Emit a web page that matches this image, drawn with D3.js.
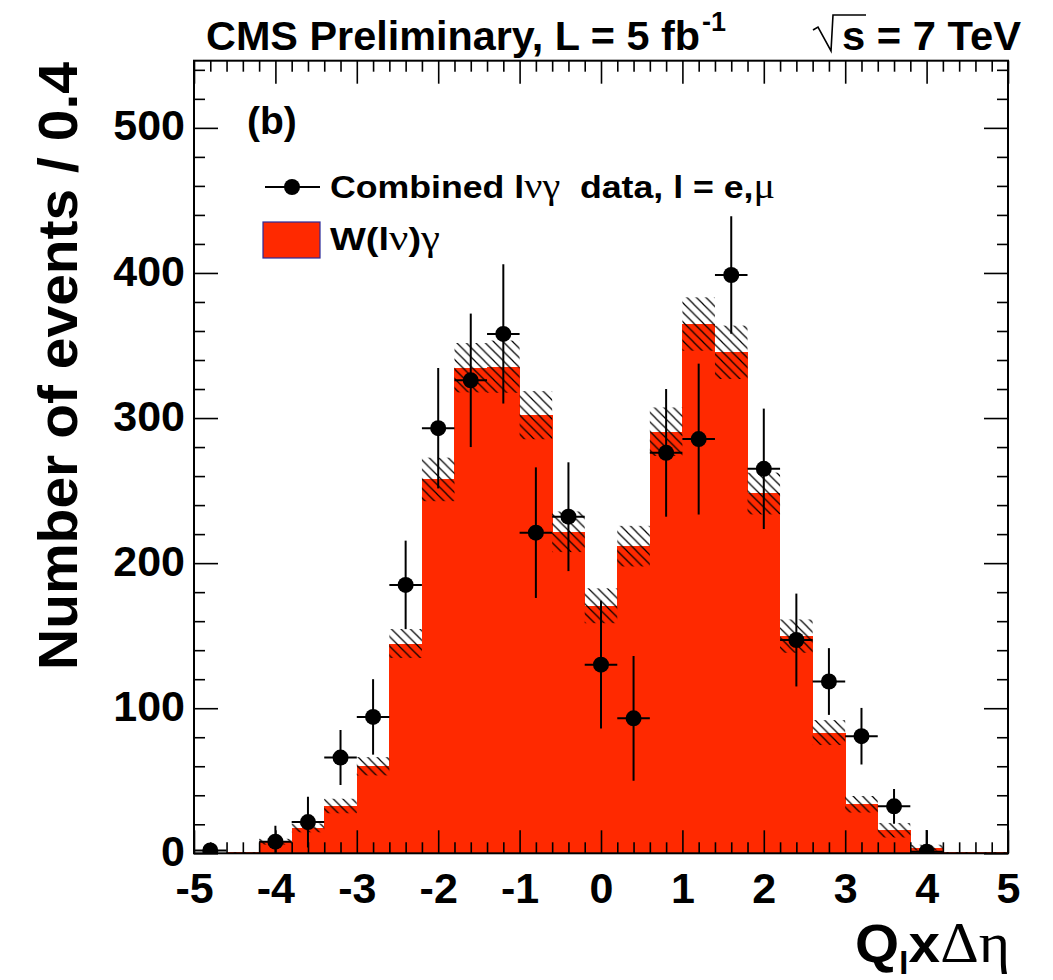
<!DOCTYPE html>
<html>
<head>
<meta charset="utf-8">
<script src="https://cdn.jsdelivr.net/npm/d3@7"></script>
<style>
  html, body { margin: 0; padding: 0; background: #ffffff; }
  svg { display: block; }
  text { font-family: "Liberation Sans", Arial, Helvetica, sans-serif; font-weight: bold; fill: #000; }
  .greek { font-family: "Liberation Serif", "DejaVu Serif", serif; font-weight: normal; }
</style>
</head>
<body>
<svg id="chart" width="1053" height="980"></svg>
<script>
// ---------------- data ----------------
const binLow  = [-5.0,-4.6,-4.2,-3.8,-3.4,-3.0,-2.6,-2.2,-1.8,-1.4,-1.0,-0.6,-0.2,0.2,0.6,1.0,1.4,1.8,2.2,2.6,3.0,3.4,3.8,4.2,4.6];
const binHigh = [-4.6,-4.2,-3.8,-3.4,-3.0,-2.6,-2.2,-1.8,-1.4,-1.0,-0.6,-0.2,0.2,0.6,1.0,1.4,1.8,2.2,2.6,3.0,3.4,3.8,4.2,4.6,5.0];
const binCenter = [-4.8,-4.4,-4.0,-3.6,-3.2,-2.8,-2.4,-2.0,-1.6,-1.2,-0.8,-0.4,0.0,0.4,0.8,1.2,1.6,2.0,2.4,2.8,3.2,3.6,4.0,4.4,4.8];
// W(lnu)gamma expectation and its uncertainty (hatched band)
const mcValue = [0,0.6,8,17.5,32.6,60,144.6,257.7,334.7,335.4,302,221.6,170.6,211.7,290.6,364.8,345.3,248,149.7,83.2,33.8,15.9,3.9,0.6,0.6];
const mcError = [0,0.3,2,3,5,6.3,10,15,17,18,16.6,14,12,14,16.7,18.4,18.4,14.4,11.5,8.6,5.7,5,2,0.3,0.3];
// Combined data (null = no point drawn)
const dataValue = [2,null,8,21.5,66,94,185,293,326,358,221,232,130,93,276,285.5,398.6,265,147,118.4,80.7,32.4,1,null,null];
const dataError = [1.5,null,11,17.5,19,26,30.5,41.5,46,48,45,37.5,44,43,44,52,40.5,41.5,32,23,19.5,12,15,null,null];
// axis ticks
const xMajorTicks = [-5,-4,-3,-2,-1,0,1,2,3,4,5];
const xMinorTicks = [-4.8,-4.6,-4.4,-4.2,-3.8,-3.6,-3.4,-3.2,-2.8,-2.6,-2.4,-2.2,-1.8,-1.6,-1.4,-1.2,-0.8,-0.6,-0.4,-0.2,
                     0.2,0.4,0.6,0.8,1.2,1.4,1.6,1.8,2.2,2.4,2.6,2.8,3.2,3.4,3.6,3.8,4.2,4.4,4.6,4.8];
const yMajorTicks = [0,100,200,300,400,500];
const yMinorTicks = [20,40,60,80,120,140,160,180,220,240,260,280,320,340,360,380,420,440,460,480,520,540];
const xTickLabels = ["-5","-4","-3","-2","-1","0","1","2","3","4","5"];
const yTickLabels = ["0","100","200","300","400","500"];

// ---------------- layout ----------------
const svg = d3.select("#chart");
const L = 194, R = 1008, T = 60.7, B = 853.3;
const x = d3.scaleLinear().domain([-5, 5]).range([L, R]);
const y = d3.scaleLinear().domain([0, 546.3]).range([B, T]);
const RED = "rgb(255,41,0)";

const defs = svg.append("defs");
const pat = defs.append("pattern").attr("id", "hatch").attr("patternUnits", "userSpaceOnUse")
  .attr("width", 9.5).attr("height", 9.5);
pat.append("path").attr("d", "M-1,-1 L10.5,10.5 M-1,8.5 L1,10.5 M8.5,-1 L10.5,1")
  .attr("stroke", "#000").attr("stroke-width", 1.2).attr("fill", "none");
defs.append("clipPath").attr("id", "frameclip").append("rect")
  .attr("x", L).attr("y", T).attr("width", R - L).attr("height", B - T);

const plot = svg.append("g").attr("clip-path", "url(#frameclip)");

// histogram
plot.append("g").selectAll("rect").data(mcValue).join("rect")
  .attr("x", (d, i) => x(binLow[i]))
  .attr("width", (d, i) => x(binHigh[i]) - x(binLow[i]) + 0.4)
  .attr("y", d => y(d))
  .attr("height", d => y(0) - y(d))
  .attr("fill", RED)
  .attr("shape-rendering", "crispEdges");

// uncertainty band
plot.append("g").selectAll("rect").data(mcValue).join("rect")
  .attr("x", (d, i) => x(binLow[i]))
  .attr("width", (d, i) => x(binHigh[i]) - x(binLow[i]))
  .attr("y", (d, i) => y(d + mcError[i]))
  .attr("height", (d, i) => y(Math.max(0, d - mcError[i])) - y(d + mcError[i]))
  .attr("fill", "url(#hatch)");

// data points
const pts = binCenter.map((c, i) => ({c, lo: binLow[i], hi: binHigh[i], v: dataValue[i], e: dataError[i]}))
  .filter(p => p.v !== null);
const gd = plot.append("g");
gd.selectAll("line.v").data(pts).join("line").attr("class", "v")
  .attr("x1", p => x(p.c)).attr("x2", p => x(p.c))
  .attr("y1", p => y(Math.max(0, p.v - p.e))).attr("y2", p => y(p.v + p.e))
  .attr("stroke", "#000").attr("stroke-width", 2);
gd.selectAll("line.h").data(pts).join("line").attr("class", "h")
  .attr("x1", p => x(p.lo)).attr("x2", p => x(p.hi))
  .attr("y1", p => y(p.v)).attr("y2", p => y(p.v))
  .attr("stroke", "#000").attr("stroke-width", 2);
gd.selectAll("circle").data(pts).join("circle")
  .attr("cx", p => x(p.c)).attr("cy", p => y(p.v)).attr("r", 8).attr("fill", "#000");

// ---------------- axes ----------------
function styleAxis(g) {
  g.select(".domain").remove();
  g.selectAll(".tick line").attr("stroke", "#000").attr("stroke-width", 1.6);
  g.selectAll(".tick text").style("font-family", "'Liberation Sans', Arial, sans-serif")
    .style("font-weight", "bold").style("font-size", "43px").attr("fill", "#000");
}
// bottom
svg.append("g").attr("transform", `translate(0,${B})`)
  .call(d3.axisBottom(x).tickValues(xMajorTicks).tickSizeInner(-23).tickSizeOuter(0).tickPadding(19)
        .tickFormat((d, i) => xTickLabels[i]))
  .call(styleAxis);
svg.append("g").attr("transform", `translate(0,${B})`)
  .call(d3.axisBottom(x).tickValues(xMinorTicks).tickSizeInner(-11).tickSizeOuter(0).tickFormat(""))
  .call(styleAxis);
// top
svg.append("g").attr("transform", `translate(0,${T})`)
  .call(d3.axisTop(x).tickValues(xMajorTicks).tickSizeInner(-23).tickSizeOuter(0).tickFormat(""))
  .call(styleAxis);
svg.append("g").attr("transform", `translate(0,${T})`)
  .call(d3.axisTop(x).tickValues(xMinorTicks).tickSizeInner(-11).tickSizeOuter(0).tickFormat(""))
  .call(styleAxis);
// left
const yAx = svg.append("g").attr("transform", `translate(${L},0)`)
  .call(d3.axisLeft(y).tickValues(yMajorTicks).tickSizeInner(-24).tickSizeOuter(0).tickPadding(9)
        .tickFormat((d, i) => yTickLabels[i]))
  .call(styleAxis);
yAx.selectAll(".tick text").attr("dy", "0.28em");
svg.append("g").attr("transform", `translate(${L},0)`)
  .call(d3.axisLeft(y).tickValues(yMinorTicks).tickSizeInner(-11).tickSizeOuter(0).tickFormat(""))
  .call(styleAxis);
// right
svg.append("g").attr("transform", `translate(${R},0)`)
  .call(d3.axisRight(y).tickValues(yMajorTicks).tickSizeInner(-24).tickSizeOuter(0).tickFormat(""))
  .call(styleAxis);
svg.append("g").attr("transform", `translate(${R},0)`)
  .call(d3.axisRight(y).tickValues(yMinorTicks).tickSizeInner(-11).tickSizeOuter(0).tickFormat(""))
  .call(styleAxis);

// frame
svg.append("rect").attr("x", L).attr("y", T).attr("width", R - L).attr("height", B - T)
  .attr("fill", "none").attr("stroke", "#000").attr("stroke-width", 2);

// ---------------- texts ----------------
// title
svg.append("text").attr("x", 206).attr("y", 50).attr("font-size", 41)
  .attr("textLength", 494).attr("lengthAdjust", "spacingAndGlyphs")
  .text("CMS Preliminary, L = 5 fb");
svg.append("text").attr("x", 702).attr("y", 31).attr("font-size", 27).text("-1");
svg.append("path").attr("d", "M813,30 L818,27 L831,51 L833,15 L866,15")
  .attr("fill", "none").attr("stroke", "#000").attr("stroke-width", 1.6);
svg.append("text").attr("x", 842).attr("y", 50).attr("font-size", 41)
  .attr("textLength", 179).attr("lengthAdjust", "spacingAndGlyphs")
  .text("s = 7 TeV");

// (b)
svg.append("text").attr("x", 247).attr("y", 134).attr("font-size", 39).text("(b)");

// legend
svg.append("line").attr("x1", 265).attr("x2", 320).attr("y1", 187).attr("y2", 187)
  .attr("stroke", "#000").attr("stroke-width", 2);
svg.append("circle").attr("cx", 292).attr("cy", 187).attr("r", 8).attr("fill", "#000");
const lt1 = svg.append("text").attr("x", 330).attr("y", 198).attr("font-size", 32)
  .attr("textLength", 445).attr("lengthAdjust", "spacingAndGlyphs");
lt1.append("tspan").text("Combined l");
lt1.append("tspan").attr("class", "greek").attr("font-size", 36).text("νγ");
lt1.append("tspan").text("\u00a0 data, l = e,");
lt1.append("tspan").attr("class", "greek").attr("font-size", 36).text("μ");

svg.append("rect").attr("x", 263).attr("y", 222).attr("width", 57).attr("height", 36)
  .attr("fill", RED).attr("stroke", "#2a2a9a").attr("stroke-width", 1.2);
const lt2 = svg.append("text").attr("x", 330).attr("y", 250).attr("font-size", 32)
  .attr("textLength", 110).attr("lengthAdjust", "spacingAndGlyphs");
lt2.append("tspan").text("W(l");
lt2.append("tspan").attr("class", "greek").attr("font-size", 36).text("ν");
lt2.append("tspan").text(")");
lt2.append("tspan").attr("class", "greek").attr("font-size", 36).text("γ");

// y axis title
svg.append("text").attr("transform", "translate(77,366) rotate(-90)")
  .attr("text-anchor", "middle").attr("font-size", 56)
  .attr("textLength", 608).attr("lengthAdjust", "spacingAndGlyphs")
  .text("Number of events / 0.4");

// x axis title
const xt = svg.append("text").attr("x", 855).attr("y", 962).attr("font-size", 53)
  .attr("textLength", 155).attr("lengthAdjust", "spacingAndGlyphs");
xt.append("tspan").text("Q");
xt.append("tspan").attr("font-size", 32).attr("dy", 12).text("l");
xt.append("tspan").attr("dy", -12).text("x");
xt.append("tspan").attr("class", "greek").attr("font-size", 56).text("Δη");
</script>
</body>
</html>
